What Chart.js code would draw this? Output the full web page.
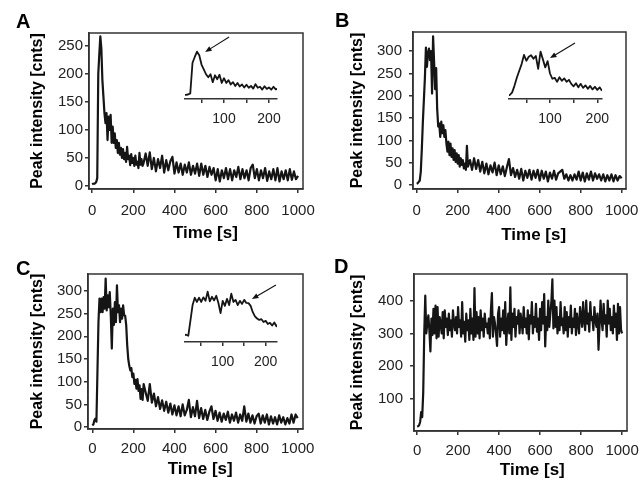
<!DOCTYPE html>
<html>
<head>
<meta charset="utf-8">
<script src="https://cdn.jsdelivr.net/npm/chart.js@4.4.1/dist/chart.umd.min.js"></script>
<style>
  html, body { margin: 0; padding: 0; background: #fff; }
  body { width: 641px; height: 483px; position: relative; overflow: hidden; }
  canvas { position: absolute; }
</style>
</head>
<body>
<canvas id="chartA" width="320" height="248" style="left:0;top:0"></canvas>
<canvas id="chartB" width="320" height="248" style="left:320px;top:0"></canvas>
<canvas id="chartC" width="320" height="248" style="left:0;top:240px"></canvas>
<canvas id="chartD" width="320" height="248" style="left:320px;top:240px"></canvas>
<canvas id="insetA" width="110" height="105" style="left:180px;top:30px"></canvas>
<canvas id="insetB" width="115" height="105" style="left:500px;top:30px"></canvas>
<canvas id="insetC" width="110" height="105" style="left:180px;top:272px"></canvas>
<script>
// sampling times (s): 5 s steps up to 250 s, then 10 s
const timesABC = [0,5,10,15,20,25,30,35,40,45,50,55,60,65,70,75,80,85,90,95,
  100,105,110,115,120,125,130,135,140,145,150,155,160,165,170,175,180,185,190,195,
  200,205,210,215,220,225,230,235,240,245,250,
  260,270,280,290,300,310,320,330,340,350,360,370,380,390,400,410,420,430,440,450,
  460,470,480,490,500,510,520,530,540,550,560,570,580,590,600,610,620,630,640,650,
  660,670,680,690,700,710,720,730,740,750,760,770,780,790,800,810,820,830,840,850,
  860,870,880,890,900,910,920,930,940,950,960,970,980,990,1000];

const timesD = [0,5,10,15,20,25,30,35,40,45,50,55,60,65,70,75,80,85,90,95,
  100,105,110,115,120,125,130,135,140,145,150,155,160,165,170,175,180,185,190,195,
  200,205,210,215,220,225,230,235,240,245,250,255,260,265,270,275,280,285,290,295,
  300,305,310,315,320,325,330,335,340,345,350,355,360,365,370,375,380,385,390,395,
  400,405,410,415,420,425,430,435,440,445,450,455,460,465,470,475,480,485,490,495,
  500,505,510,515,520,525,530,535,540,545,550,555,560,565,570,575,580,585,590,595,
  600,605,610,615,620,625,630,635,640,645,650,655,660,665,670,675,680,685,690,695,
  700,705,710,715,720,725,730,735,740,745,750,755,760,765,770,775,780,785,790,795,
  800,805,810,815,820,825,830,835,840,845,850,855,860,865,870,875,880,885,890,895,
  900,905,910,915,920,925,930,935,940,945,950,955,960,965,970,975,980,985,990,995,
  1000];

// peak intensity [cnts]
const intensityA = [3,4,4,5,7,14,200,235,267,245,
  189,160,130,112,130,82,124,100,127,77,
  106,77,94,68,82,59,77,56,68,50,
  66,48,59,43,70,48,54,37,57,41,
  50,36,54,38,43,32,59,38,48,36,41,
  58,36,60,30,50,26,48,32,54,24,
  46,28,44,52,22,42,24,40,20,38,
  24,42,20,36,22,40,18,40,20,36,
  16,34,20,32,10,30,8,28,14,32,
  12,30,10,28,16,34,12,30,14,28,
  10,32,38,14,30,10,28,14,32,9,
  26,12,30,10,32,8,26,12,28,10,
  30,11,26,12,18];

const intensityB = [3,4,7,10,30,80,140,190,240,308,
  265,295,306,280,300,205,333,275,215,262,
  170,131,138,108,142,116,134,108,123,93,
  75,97,67,93,63,82,56,78,52,71,
  48,67,41,60,45,56,37,48,34,88,41,
  56,34,60,36,56,30,52,26,48,24,
  44,28,50,22,44,24,42,20,40,58,
  22,38,18,34,14,36,10,32,16,34,
  12,32,16,34,10,32,14,30,8,28,
  14,32,12,26,30,34,14,24,10,22,
  10,24,12,30,10,28,8,26,12,30,
  10,26,14,24,10,24,8,22,10,24,
  8,22,10,20,15];

const intensityC = [4,6,15,19,12,122,232,283,253,283,
  253,286,261,327,257,290,264,297,246,173,
  261,225,275,231,312,253,268,231,261,239,
  268,246,245,225,180,150,135,125,130,110,
  118,95,104,85,106,80,92,62,84,60,95,
  76,58,95,54,74,46,66,40,59,36,
  56,32,52,28,48,26,46,24,50,26,
  38,60,22,44,24,58,20,42,18,38,
  16,34,46,18,36,14,32,12,30,16,
  34,10,28,14,32,10,28,14,46,12,
  30,10,26,8,24,30,8,26,10,28,
  6,24,8,22,6,26,10,22,6,20,
  8,28,10,28,20];

const intensityD = [16,17,20,30,60,45,120,300,415,300,330,355,310,245,345,295,375,300,385,285,
  380,290,350,330,300,365,285,370,320,345,295,360,310,340,290,370,330,310,350,300,
  380,320,340,290,395,300,335,275,360,310,340,280,375,300,345,280,438,290,365,300,
  350,285,370,310,345,290,360,320,330,300,345,285,370,423,290,350,330,300,262,360,
  380,290,345,310,370,300,395,265,330,360,300,440,280,360,320,375,290,350,330,370,
  300,360,335,300,380,320,345,300,370,282,355,330,395,300,350,320,390,305,345,280,
  375,310,395,330,420,260,350,310,400,320,360,395,465,315,400,320,380,300,350,310,
  395,325,345,300,380,310,365,290,350,320,385,300,345,320,375,295,360,330,300,380,
  350,320,395,340,310,400,330,360,305,395,340,350,310,380,340,320,360,250,325,400,
  340,310,390,330,355,290,400,330,375,310,350,300,385,320,360,280,390,300,380,310,
  300];

const xTicksMain = [0, 200, 400, 600, 800, 1000];
const xTicksInset = [50, 100, 150, 200];
const xLabelsInset = [100, 200];
const yTicksA = [0, 50, 100, 150, 200, 250];
const yTicksBC = [0, 50, 100, 150, 200, 250, 300];
const yTicksD = [100, 200, 300, 400];

const FONT = '"Liberation Sans", Arial, Helvetica, sans-serif';
const INK = '#151515';
const AXIS = '#333';

Chart.defaults.font.family = FONT;
Chart.defaults.color = '#222';

// box round the plot area + panel letter
const framePlugin = {
  id: 'frame',
  afterDraw(chart, args, opts) {
    const { ctx, chartArea: a } = chart;
    ctx.save();
    ctx.strokeStyle = AXIS;
    ctx.lineWidth = 1.5;
    ctx.strokeRect(a.left, a.top, a.right - a.left, a.bottom - a.top);
    ctx.fillStyle = '#000';
    ctx.font = 'bold 20px ' + FONT;
    ctx.textBaseline = 'alphabetic';
    ctx.fillText(opts.letter, opts.letterX, opts.letterY);
    ctx.restore();
  }
};

// arrow pointing at a spot of the inset curve
const arrowPlugin = {
  id: 'arrow',
  afterDatasetsDraw(chart, args, opts) {
    const { ctx } = chart;
    const x = chart.scales.x.getPixelForValue(opts.tip[0]);
    const y = chart.scales.y.getPixelForValue(opts.tip[1]);
    const x0 = x + opts.dx, y0 = y + opts.dy;
    const ang = Math.atan2(y - y0, x - x0);
    ctx.save();
    ctx.strokeStyle = '#111';
    ctx.fillStyle = '#111';
    ctx.lineWidth = 1.1;
    ctx.beginPath();
    ctx.moveTo(x0, y0);
    ctx.lineTo(x - 5 * Math.cos(ang), y - 5 * Math.sin(ang));
    ctx.stroke();
    ctx.beginPath();
    ctx.moveTo(x, y);
    ctx.lineTo(x - 7 * Math.cos(ang - 0.38), y - 7 * Math.sin(ang - 0.38));
    ctx.lineTo(x - 7 * Math.cos(ang + 0.38), y - 7 * Math.sin(ang + 0.38));
    ctx.closePath();
    ctx.fill();
    ctx.restore();
  }
};

function toPoints(times, values) {
  return times.map((t, i) => ({ x: t, y: values[i] }));
}

function mainChart(id, times, values, yTicks, p) {
  return new Chart(document.getElementById(id), {
    type: 'line',
    data: {
      datasets: [{
        data: toPoints(times, values),
        borderColor: INK, borderWidth: 2.2, borderJoinStyle: 'round',
        pointRadius: 0, tension: 0, fill: false
      }]
    },
    options: {
      responsive: false,
      animation: false,
      events: [],
      layout: { padding: p.pad },
      plugins: {
        legend: { display: false },
        tooltip: { enabled: false },
        frame: { letter: p.letter, letterX: p.letterX, letterY: p.letterY }
      },
      scales: {
        x: {
          type: 'linear', min: p.xMin, max: p.xMax,
          afterBuildTicks: s => { s.ticks = xTicksMain.map(v => ({ value: v })); },
          afterFit: s => { s.height = p.xHeight; s.paddingLeft = 0; s.paddingRight = 0; },
          grid: { drawOnChartArea: false, drawTicks: true, tickLength: 4, color: AXIS, lineWidth: 1.5 },
          border: { display: true, color: AXIS, width: 1.5 },
          ticks: { font: { size: 15 }, padding: p.xTickPad, maxRotation: 0, autoSkip: false, color: '#222',
                   callback: v => String(v) },
          title: { display: true, text: p.xTitle, color: '#000',
                   font: { size: 17, weight: 'bold' }, padding: { top: 0, bottom: 0 } }
        },
        y: {
          type: 'linear', min: p.yMin, max: p.yMax,
          afterBuildTicks: s => { s.ticks = yTicks.map(v => ({ value: v })); },
          afterFit: s => { s.width = p.yWidth; s.paddingTop = 0; s.paddingBottom = 0; },
          grid: { drawOnChartArea: false, drawTicks: true, tickLength: 4, color: AXIS, lineWidth: 1.5 },
          border: { display: true, color: AXIS, width: 1.5 },
          ticks: { font: { size: 15 }, padding: p.yTickPad, color: '#222', callback: v => String(v) },
          title: { display: true, text: 'Peak intensity [cnts]', color: '#000',
                   font: { size: 16, weight: 'bold' }, padding: { top: 4, bottom: 4 } }
        }
      }
    },
    plugins: [framePlugin]
  });
}

function insetChart(id, times, values, p) {
  return new Chart(document.getElementById(id), {
    type: 'line',
    data: {
      datasets: [{
        data: toPoints(times, values),
        borderColor: INK, borderWidth: 1.8, borderJoinStyle: 'round',
        pointRadius: 0, tension: 0, fill: false
      }]
    },
    options: {
      responsive: false,
      animation: false,
      events: [],
      layout: { padding: p.pad },
      plugins: {
        legend: { display: false },
        tooltip: { enabled: false },
        arrow: { tip: p.tip, dx: p.dx, dy: p.dy }
      },
      scales: {
        x: {
          type: 'linear', min: p.xMin, max: p.xMax,
          afterBuildTicks: s => { s.ticks = xTicksInset.map(v => ({ value: v })); },
          afterFit: s => { s.height = p.xHeight; s.paddingLeft = 0; s.paddingRight = 0; },
          grid: { drawOnChartArea: false, drawTicks: true, tickLength: 4, color: AXIS, lineWidth: 1.5 },
          border: { display: true, color: AXIS, width: 1.5 },
          ticks: { font: { size: 14 }, padding: 8, maxRotation: 0, autoSkip: false, color: '#222',
                   callback: v => xLabelsInset.includes(v) ? String(v) : '' }
        },
        y: { type: 'linear', display: false, min: p.yMin, max: p.yMax }
      }
    },
    plugins: [arrowPlugin]
  });
}

mainChart('chartA', timesABC, intensityA, yTicksA, {
  pad: { left: 24, top: 33, right: 17, bottom: 4 }, yWidth: 65, xHeight: 55,
  xMin: -15, xMax: 1024, yMin: -5.4, yMax: 273, xTickPad: 9, yTickPad: 2,
  xTitle: '    Time [s]', letter: 'A', letterX: 16, letterY: 28
});
mainChart('chartB', timesABC, intensityB, yTicksBC, {
  pad: { left: 24, top: 32, right: 14, bottom: 2 }, yWidth: 69, xHeight: 57,
  xMin: -18, xMax: 1021, yMin: -9, yMax: 343, xTickPad: 9, yTickPad: 7,
  xTitle: '      Time [s]', letter: 'B', letterX: 15, letterY: 27
});
mainChart('chartC', timesABC, intensityC, yTicksBC, {
  pad: { left: 24, top: 34, right: 17, bottom: 8 }, yWidth: 64, xHeight: 51,
  xMin: -21, xMax: 1026, yMin: -4, yMax: 337, xTickPad: 7, yTickPad: 2,
  xTitle: '  Time [s]', letter: 'C', letterX: 16, letterY: 35
});
mainChart('chartD', timesD, intensityD, yTicksD, {
  pad: { left: 24, top: 34, right: 13, bottom: 7 }, yWidth: 70, xHeight: 50,
  xMin: -15, xMax: 1024, yMin: 2.5, yMax: 481, xTickPad: 7, yTickPad: 7,
  xTitle: '     Time [s]', letter: 'D', letterX: 14, letterY: 33
});

insetChart('insetA', timesABC, intensityA, {
  pad: { left: 5, top: 10, right: 13, bottom: 4 }, xHeight: 32,
  xMin: 13.3, xMax: 217.8, yMin: -20.3, yMax: 338,
  tip: [58, 265], dx: 24, dy: -15
});
insetChart('insetB', timesABC, intensityB, {
  pad: { left: 9, top: 10, right: 13, bottom: 4 }, xHeight: 32,
  xMin: 13.3, xMax: 210, yMin: -19.5, yMax: 419,
  tip: [100, 285], dx: 25, dy: -15
});
insetChart('insetC', timesABC, intensityC, {
  pad: { left: 5, top: 10, right: 13, bottom: 3 }, xHeight: 32,
  xMin: 12.3, xMax: 226.3, yMin: -33, yMax: 395.6,
  tip: [168, 274], dx: 24, dy: -14
});
</script>
</body>
</html>
